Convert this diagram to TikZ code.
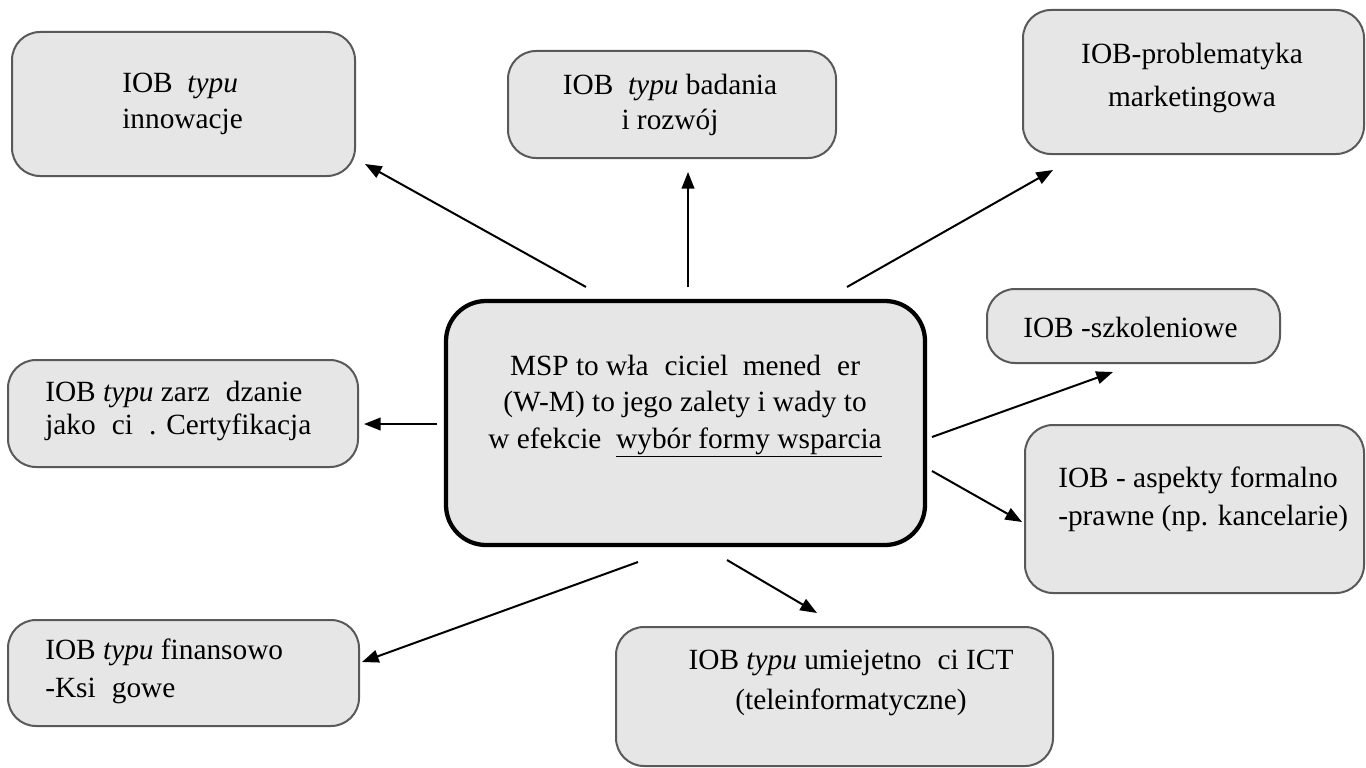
\documentclass[tikz,border=0pt]{standalone}
\usepackage{fontspec}
\setmainfont{Liberation Serif}
\usetikzlibrary{arrows.meta,fit}
\definecolor{boxfill}{HTML}{E6E6E6}
\definecolor{boxline}{HTML}{595959}
\begin{document}
\begin{tikzpicture}[x=0.75pt,y=-0.75pt,
  box/.style={draw=boxline, fill=boxfill, line width=1.5pt, rounded corners=21pt, inner sep=0pt},
  mainbox/.style={draw=black, fill=boxfill, line width=3.2pt, rounded corners=30pt, inner sep=0pt},
  lbl/.style={font=\fontsize{22}{26}\selectfont, inner sep=0pt},
  arr/.style={line width=1.5pt, -{Triangle[length=12.5pt,width=9.5pt]}}]
\useasboundingbox (0,0) rectangle (1366,767);

% boxes
\node[box, fit={(12,32)(355,176)}] (inn) {};
\node[box, fit={(508,51)(836,158)}] (bad) {};
\node[box, fit={(1023,10)(1364,154)}] (mar) {};
\node[mainbox, fit={(446,301)(925,545)}] (msp) {};
\node[box, fit={(987,289)(1280,363)}] (szk) {};
\node[box, fit={(8,360)(358,467)}] (zar) {};
\node[box, fit={(1025,425)(1364,593)}] (for) {};
\node[box, fit={(8,620)(359,726)}] (fin) {};
\node[box, fit={(616,627)(1053,766)}] (ict) {};

% texts
\node[lbl, align=left, anchor=west, font=\fontsize{22}{27}\selectfont] (innT) at (122,104) {IOB\ \ \textit{typu}\\innowacje};
\node[lbl, align=center] (badT) at (670,105) {IOB\ \ \textit{typu} badania\\i rozwój};
\node[lbl, align=center, font=\fontsize{22}{32}\selectfont] (marT) at (1192,78) {IOB-problematyka\\marketingowa};
\node[lbl, align=center, font=\fontsize{22}{27.5}\selectfont] (mspT) at (685,406) {MSP to wła\hspace{0.55em}ciciel\ \ mened\hspace{0.55em}er\\(W-M) to jego zalety i wady to\\w efekcie\ \ \underline{wybór formy wsparcia}};
\node[lbl, anchor=west] (szkT) at (1023,327) {IOB -szkoleniowe};
\node[lbl, align=left, anchor=west, font=\fontsize{22}{24.5}\selectfont] (zarT) at (45,411) {IOB \textit{typu} zarz\hspace{0.55em}dzanie\\jako\hspace{0.55em}ci\hspace{0.55em}. Certyfikacja};
\node[lbl, align=left, anchor=west, font=\fontsize{22}{28.5}\selectfont] (forT) at (1058,499) {IOB - aspekty formalno\\-prawne (np. kancelarie)};
\node[lbl, align=left, anchor=west, font=\fontsize{22}{28.5}\selectfont] (finT) at (45,671) {IOB \textit{typu} finansowo\\-Ksi\hspace{0.55em}gowe};
\node[lbl, align=center, font=\fontsize{22}{30.5}\selectfont] (ictT) at (851,683) {IOB \textit{typu} umiejetno\hspace{0.55em}ci ICT\\(teleinformatyczne)};

% arrow end points
\coordinate (s1) at (586,287); \coordinate (t1) at (365,164);
\coordinate (s2) at (688,287); \coordinate (t2) at (688,172);
\coordinate (s3) at (847,287); \coordinate (t3) at (1053,170);
\coordinate (s4) at (437,424); \coordinate (t4) at (364,424);
\coordinate (s5) at (932,437); \coordinate (t5) at (1113,372);
\coordinate (s6) at (932,471); \coordinate (t6) at (1022,522);
\coordinate (s7) at (638,562); \coordinate (t7) at (362,662);
\coordinate (s8) at (727,560); \coordinate (t8) at (817,613);

\draw[arr] (s1) -- (t1);
\draw[arr] (s2) -- (t2);
\draw[arr] (s3) -- (t3);
\draw[arr] (s4) -- (t4);
\draw[arr] (s5) -- (t5);
\draw[arr] (s6) -- (t6);
\draw[arr] (s7) -- (t7);
\draw[arr] (s8) -- (t8);
\end{tikzpicture}
\end{document}
